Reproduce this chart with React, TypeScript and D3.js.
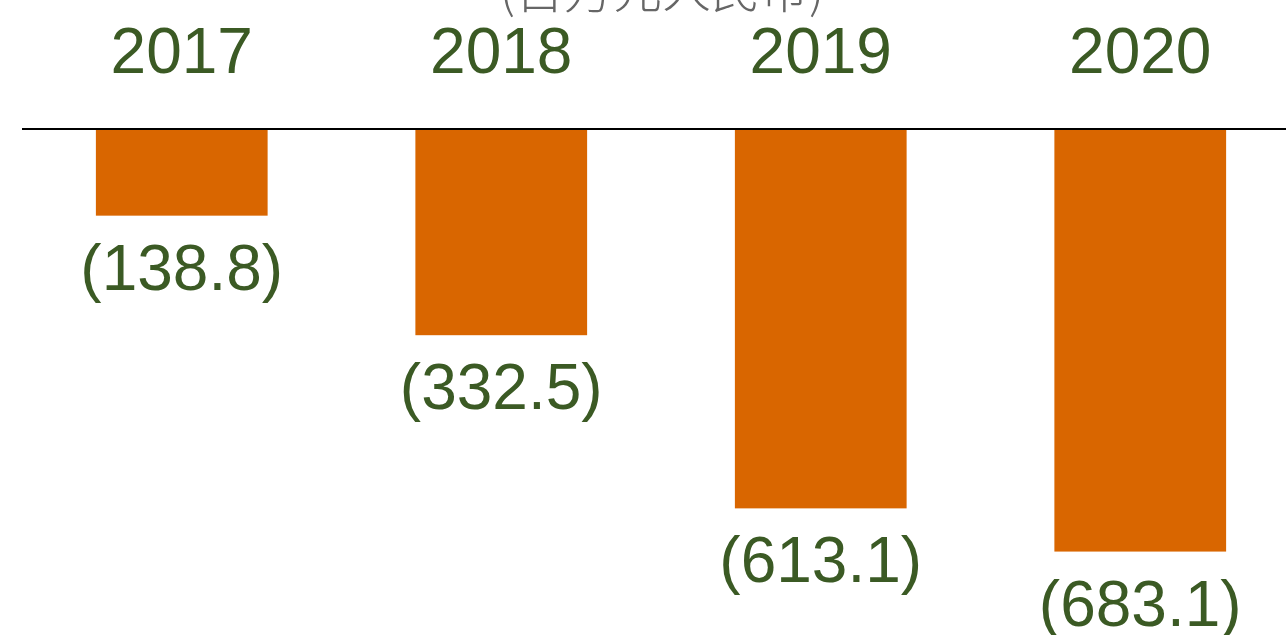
import React from 'react';
import * as d3 from 'd3';

const years = ['2017', '2018', '2019', '2020'];
const values = [-138.8, -332.5, -613.1, -683.1];
const unitLabel = '(百万元人民币)';

const W = 1286;
const H = 635;
const textColor = '#3b5a24';
const barColor = '#d96600';

export default function App() {
  const x = d3.scaleBand<string>()
    .domain(years)
    .range([22, 1300])
    .paddingInner(0.4625)
    .paddingOuter(0.23125);

  const y = d3.scaleLinear().domain([0, -700]).range([130, 562]);

  const fmt = (v: number) => `(${d3.format('.1f')(Math.abs(v))})`;

  return (
    <svg
      width={W}
      height={H}
      style={{ position: 'absolute', left: 0, top: 0, background: '#fff' }}
      fontFamily="'Liberation Sans', Arial, sans-serif"
    >
      <text
        x={662}
        y={8}
        textAnchor="middle"
        fontSize={49}
        fill="#666"
        fontFamily="'Noto Sans CJK SC', sans-serif"
        fontWeight={300}
      >
        {unitLabel}
      </text>

      {years.map((yr) => (
        <text
          key={yr}
          x={(x(yr) ?? 0) + x.bandwidth() / 2}
          y={73}
          textAnchor="middle"
          fontSize={64}
          fill={textColor}
        >
          {yr}
        </text>
      ))}

      {years.map((yr, i) => (
        <rect
          key={'b' + yr}
          x={x(yr)}
          y={y(0)}
          width={x.bandwidth()}
          height={y(values[i]) - y(0)}
          fill={barColor}
        />
      ))}

      {years.map((yr, i) => (
        <text
          key={'l' + yr}
          x={(x(yr) ?? 0) + x.bandwidth() / 2}
          y={y(values[i]) + 74}
          textAnchor="middle"
          fontSize={64}
          fill={textColor}
        >
          {fmt(values[i])}
        </text>
      ))}

      <line x1={22} x2={W} y1={129} y2={129} stroke="#000" strokeWidth={2} />
    </svg>
  );
}
